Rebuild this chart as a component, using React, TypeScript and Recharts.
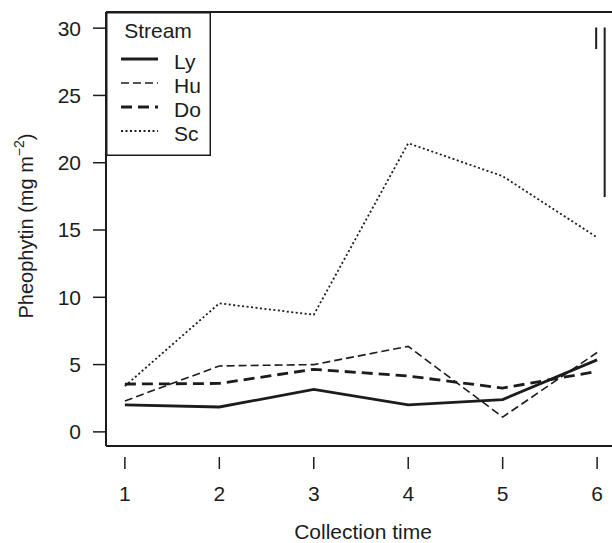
import { LineChart, Line, XAxis, YAxis, ReferenceLine } from "recharts";

const times = [1, 2, 3, 4, 5, 6];
const ly = [2.0, 1.85, 3.15, 2.0, 2.4, 5.35];
const hu = [2.3, 4.9, 5.0, 6.35, 1.1, 5.9];
const doStream = [3.55, 3.6, 4.65, 4.15, 3.25, 4.5];
const sc = [3.4, 9.55, 8.7, 21.45, 19.0, 14.45];
const yTicks = [0, 5, 10, 15, 20, 25, 30];

// the two vertical bars in the upper right corner: [x, yTop, yBottom]
const bars = [
    [5.99, 30.05, 28.45],
    [6.08, 30.05, 17.45],
];

const series = [
    { key: "Ly", values: ly, width: 2.8, dash: undefined },
    { key: "Hu", values: hu, width: 1.6, dash: "8 4" },
    { key: "Do", values: doStream, width: 2.8, dash: "11 6" },
    { key: "Sc", values: sc, width: 1.8, dash: "2 2.5" },
];

const data = times.map((t, i) => {
    const row: Record<string, number> = { time: t };
    series.forEach((s) => (row[s.key] = s.values[i]));
    return row;
});

const ink = "#1c1c1c";
const font = "'Liberation Sans', Arial, Helvetica, sans-serif";
const fontSize = 21;

const XTick = (props: any) => {
    const { x, y, payload } = props;
    return (
        <g>
            <line x1={x} x2={x} y1={y + 3} y2={y + 15} stroke={ink} strokeWidth={1.5} />
            <text x={x} y={y + 47} textAnchor="middle" fill={ink} fontSize={fontSize} fontFamily={font}>
                {payload.value}
            </text>
        </g>
    );
};

const StreamLegend = () => (
    <svg width={105} height={144} style={{ display: "block" }}>
        <rect x={0.75} y={0.75} width={103.5} height={142.5} fill="#fff" stroke={ink} strokeWidth={1.5} />
        <text x={52} y={26} textAnchor="middle" fill={ink} fontSize={fontSize} fontFamily={font}>
            Stream
        </text>
        {series.map((s, i) => (
            <g key={s.key}>
                <line
                    x1={15}
                    x2={52}
                    y1={47 + i * 24}
                    y2={47 + i * 24}
                    stroke={ink}
                    strokeWidth={s.width}
                    strokeDasharray={s.dash}
                />
                <text x={68} y={57 + i * 24} fill={ink} fontSize={fontSize} fontFamily={font}>
                    {s.key}
                </text>
            </g>
        ))}
    </svg>
);

export default function App() {
    return (
        <div style={{ position: "absolute", left: 0, top: 0, width: 612, height: 543, overflow: "hidden", background: "#fff" }}>
            <LineChart width={620} height={543} data={data} margin={{ top: 12, right: 4, bottom: 0, left: 0 }}>
                <XAxis
                    dataKey="time"
                    type="number"
                    domain={[0.8, 6.2]}
                    ticks={times}
                    height={97}
                    axisLine={false}
                    tickLine={false}
                    tick={<XTick />}
                    label={(props: any) => {
                        const vb = props.viewBox;
                        return (
                            <text x={363} y={vb.y + 93} textAnchor="middle" fill={ink} fontSize={fontSize} fontFamily={font}>
                                Collection time
                            </text>
                        );
                    }}
                />
                <YAxis
                    type="number"
                    domain={[-1.05, 31.2]}
                    ticks={yTicks}
                    width={106}
                    axisLine={false}
                    tickSize={13}
                    tickMargin={12}
                    tickLine={{ stroke: ink, strokeWidth: 1.5 }}
                    tick={{ fill: ink, fontSize, fontFamily: font }}
                    label={(props: any) => {
                        const vb = props.viewBox;
                        const cx = 26;
                        const cy = 226;
                        return (
                            <text
                                x={cx}
                                y={cy}
                                transform={`rotate(-90 ${cx} ${cy})`}
                                textAnchor="middle"
                                dominantBaseline="central"
                                fill={ink}
                                fontSize={fontSize - 1}
                                fontFamily={font}
                            >
                                Pheophytin (mg m
                                <tspan dy={-7} fontSize={14}>
                                    −2
                                </tspan>
                                <tspan dy={7}>)</tspan>
                            </text>
                        );
                    }}
                />
                {/* frame */}
                <ReferenceLine x={0.8} stroke={ink} strokeWidth={2} ifOverflow="visible" />
                <ReferenceLine y={31.2} stroke={ink} strokeWidth={2} ifOverflow="visible" />
                <ReferenceLine y={-1.05} stroke={ink} strokeWidth={2} ifOverflow="visible" />
                {bars.map(([bx, top, bottom], i) => (
                    <ReferenceLine
                        key={i}
                        segment={[
                            { x: bx, y: top },
                            { x: bx, y: bottom },
                        ]}
                        stroke={ink}
                        strokeWidth={2}
                        ifOverflow="visible"
                    />
                ))}
                {series.map((s) => (
                    <Line
                        key={s.key}
                        dataKey={s.key}
                        type="linear"
                        stroke={ink}
                        strokeWidth={s.width}
                        strokeDasharray={s.dash}
                        dot={false}
                        activeDot={false}
                        isAnimationActive={false}
                    />
                ))}
            </LineChart>
            <div style={{ position: "absolute", left: 106, top: 12 }}>
                <StreamLegend />
            </div>
        </div>
    );
}
